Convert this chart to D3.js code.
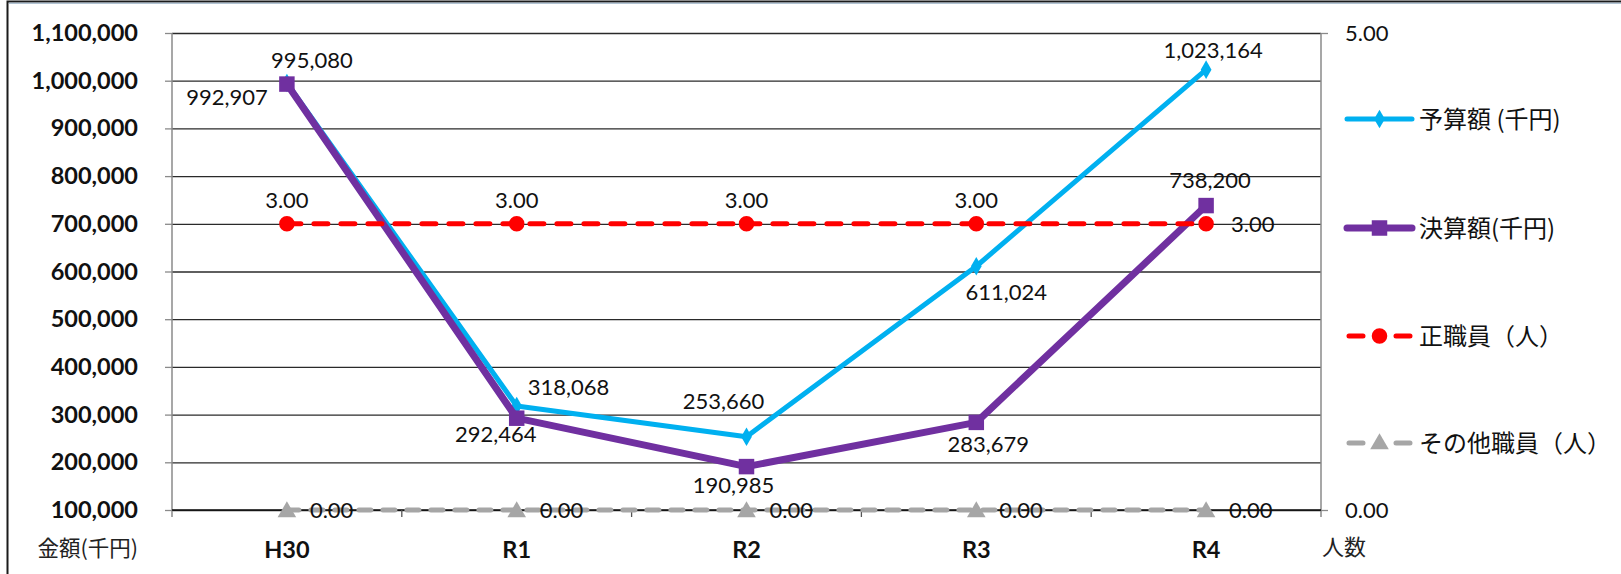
<!DOCTYPE html>
<html>
<head>
<meta charset="utf-8">
<script src="https://cdn.jsdelivr.net/npm/d3@7"></script>
<style>
  html, body { margin: 0; padding: 0; background: #fff; }
  svg { display: block; }
  .num { font-family: Lato, "Liberation Sans", sans-serif; }
  .jp { font-family: "Noto Sans CJK JP", sans-serif; }
</style>
</head>
<body>
<svg id="chart" width="1621" height="574"></svg>
<script>
// ---------------- data ----------------
const categories = ["H30", "R1", "R2", "R3", "R4"];
const budget = [995080, 318068, 253660, 611024, 1023164];      // 予算額（千円）
const settlement = [992907, 292464, 190985, 283679, 738200];   // 決算額（千円）
const regularStaff = [3, 3, 3, 3, 3];                           // 正職員（人）
const otherStaff = [0, 0, 0, 0, 0];                             // その他職員（人）
const leftTicks = [100000, 200000, 300000, 400000, 500000, 600000, 700000, 800000, 900000, 1000000, 1100000];
const rightTicks = [0, 5];
const seriesNames = ["予算額 (千円)", "決算額(千円)", "正職員（人）", "その他職員（人）"];
const leftAxisTitle = "金額(千円)";
const rightAxisTitle = "人数";

// ---------------- layout ----------------
const svg = d3.select("#chart");
const L = 172, R = 1321, T = 33, B = 510;

const x = d3.scaleBand().domain(categories).range([L, R]);
const cx = c => x(c) + x.bandwidth() / 2;
const yL = d3.scaleLinear().domain([100000, 1100000]).range([B, T]);
const yR = d3.scaleLinear().domain([0, 5]).range([B, T]);

const fmtInt = d3.format(",");
const fmt2 = d3.format(".2f");

// frame
svg.append("rect").attr("x", 0).attr("y", 0).attr("width", 1621).attr("height", 574).attr("fill", "#fff");
svg.append("path").attr("d", "M7.5,574 V1.5 H1621").attr("fill", "none").attr("stroke", "#1b1b1b").attr("stroke-width", 2);
svg.append("line").attr("x1", 9).attr("x2", 1621).attr("y1", 3.2).attr("y2", 3.2).attr("stroke", "#8fa8c0").attr("stroke-width", 1);

// gridlines
svg.append("g")
  .attr("transform", `translate(${L},0)`)
  .call(d3.axisLeft(yL).tickValues(leftTicks).tickSize(-(R - L)).tickFormat(""))
  .call(g => g.select(".domain").remove())
  .call(g => g.selectAll("line").attr("stroke", "#2a2a2a").attr("stroke-width", 1.3));

// left axis
const gLeft = svg.append("g")
  .attr("transform", `translate(${L},0)`)
  .call(d3.axisLeft(yL).tickValues(leftTicks).tickSize(7).tickPadding(27).tickFormat(fmtInt));
gLeft.select(".domain").attr("stroke", "#8a8a8a").attr("stroke-width", 1.5).attr("d", `M-0,${T}V${B + 7}`);
gLeft.selectAll("line").attr("stroke", "#8a8a8a").attr("stroke-width", 1.3);
gLeft.selectAll("text").attr("class", "num").attr("font-size", 23.5).attr("font-weight", "bold").attr("fill", "#111");

// right axis
const gRight = svg.append("g")
  .attr("transform", `translate(${R},0)`)
  .call(d3.axisRight(yR).tickValues(rightTicks).tickSize(7).tickPadding(17).tickFormat(fmt2));
gRight.select(".domain").attr("stroke", "#8a8a8a").attr("stroke-width", 1.5).attr("d", `M0,${T}V${B + 7}`);
gRight.selectAll("line").attr("stroke", "#8a8a8a").attr("stroke-width", 1.3);
gRight.selectAll("text").attr("class", "num").attr("font-size", 22).attr("fill", "#111");

// bottom axis (line + boundary ticks + labels)
svg.append("line").attr("x1", L).attr("x2", R).attr("y1", B).attr("y2", B).attr("stroke", "#111").attr("stroke-width", 1.5);
const gBottom = svg.append("g")
  .attr("transform", `translate(0,${B})`)
  .call(d3.axisBottom(x).tickSize(0).tickPadding(31));
gBottom.select(".domain").remove();
gBottom.selectAll("text").attr("class", "num").attr("font-size", 23.5).attr("font-weight", "bold").attr("fill", "#111");
svg.append("g").selectAll("line")
  .data(categories.slice(1))
  .join("line")
  .attr("x1", d => x(d)).attr("x2", d => x(d))
  .attr("y1", B).attr("y2", B + 7)
  .attr("stroke", "#555").attr("stroke-width", 1.3);

// axis titles
svg.append("text").attr("class", "jp").attr("x", 138).attr("y", 556).attr("text-anchor", "end")
  .attr("font-size", 21.5).attr("fill", "#222").text(leftAxisTitle);
svg.append("text").attr("class", "jp").attr("x", 1322).attr("y", 555)
  .attr("font-size", 22).attr("fill", "#222").text(rightAxisTitle);

// ---------------- series ----------------
const colors = ["#00B0F0", "#7030A0", "#FF0000", "#A6A6A6"];
const series = [
  { name: seriesNames[0], values: budget, y: yL, color: colors[0], width: 5, dash: null, marker: "diamond", fmt: fmtInt },
  { name: seriesNames[1], values: settlement, y: yL, color: colors[1], width: 7, dash: null, marker: "square", fmt: fmtInt },
  { name: seriesNames[2], values: regularStaff, y: yR, color: colors[2], width: 5, dash: "14 13", marker: "circle", fmt: fmt2 },
  { name: seriesNames[3], values: otherStaff, y: yR, color: colors[3], width: 5, dash: "12 12", marker: "triangle", fmt: fmt2 }
];

const markerSym = {
  diamond: d3.symbol().type(d3.symbolDiamond).size(100),
  square: d3.symbol().type(d3.symbolSquare).size(240),
  circle: d3.symbol().type(d3.symbolCircle).size(190),
  triangle: d3.symbol().type(d3.symbolTriangle).size(150)
};

// label placement (offsets from each point: dx, dy to baseline, anchor)
const labelPlacement = [
  [[25, -15, "middle"], [11, -11, "start"], [-23, -28, "middle"], [30, 34, "middle"], [7, -12, "middle"]],
  [[-19, 21, "end"], [-21, 24, "middle"], [-13, 26, "middle"], [12, 30, "middle"], [4, -18, "middle"]],
  [[0, -16, "middle"], [0, -16, "middle"], [0, -16, "middle"], [0, -16, "middle"], [25, 8, "start"]],
  [[23, 8, "start"], [23, 8, "start"], [23, 8, "start"], [23, 8, "start"], [23, 8, "start"]]
];

const gSeries = svg.append("g");
series.forEach((s, si) => {
  const pts = categories.map((c, i) => [cx(c), s.y(s.values[i])]);
  const line = d3.line();
  gSeries.append("path")
    .attr("d", line(pts))
    .attr("fill", "none")
    .attr("stroke", s.color)
    .attr("stroke-width", s.width)
    .attr("stroke-linejoin", "round")
    .attr("stroke-linecap", s.dash ? "round" : "butt")
    .attr("stroke-dasharray", s.dash);
  gSeries.append("g").selectAll("path")
    .data(pts)
    .join("path")
    .attr("transform", d => `translate(${d[0]},${d[1] + (s.marker === "triangle" ? 2 : 0)})`)
    .attr("d", markerSym[s.marker]())
    .attr("fill", s.color);
});

// data labels
const gLabels = svg.append("g");
series.forEach((s, si) => {
  categories.forEach((c, i) => {
    const p = labelPlacement[si][i];
    gLabels.append("text")
      .attr("class", "num")
      .attr("x", cx(c) + p[0])
      .attr("y", s.y(s.values[i]) + p[1])
      .attr("text-anchor", p[2])
      .attr("font-size", 22)
      .attr("fill", "#111")
      .text(s.fmt(s.values[i]));
  });
});

// ---------------- legend ----------------
const legendY = [119, 228, 336, 443];
const lx0 = 1347, lx1 = 1412, lxm = (lx0 + lx1) / 2;
const gLeg = svg.append("g");
series.forEach((s, si) => {
  const g = gLeg.append("g").attr("transform", `translate(0,${legendY[si]})`);
  g.append("line")
    .attr("x1", lx0 + (s.dash ? 2 : 0)).attr("x2", lx1 - (s.dash ? 2 : 0)).attr("y1", 0).attr("y2", 0)
    .attr("stroke", s.color)
    .attr("stroke-width", s.width)
    .attr("stroke-linecap", "round")
    .attr("stroke-dasharray", s.dash ? "14 33 14" : null);
  g.append("path")
    .attr("transform", `translate(${lxm},${s.marker === "triangle" ? 1 : 0})`)
    .attr("d", markerSym[s.marker]())
    .attr("fill", s.color);
  g.append("text")
    .attr("class", "jp")
    .attr("x", 1419).attr("y", 0).attr("dy", "0.36em")
    .attr("font-size", 24).attr("fill", "#111")
    .text(s.name);
});
</script>
</body>
</html>
